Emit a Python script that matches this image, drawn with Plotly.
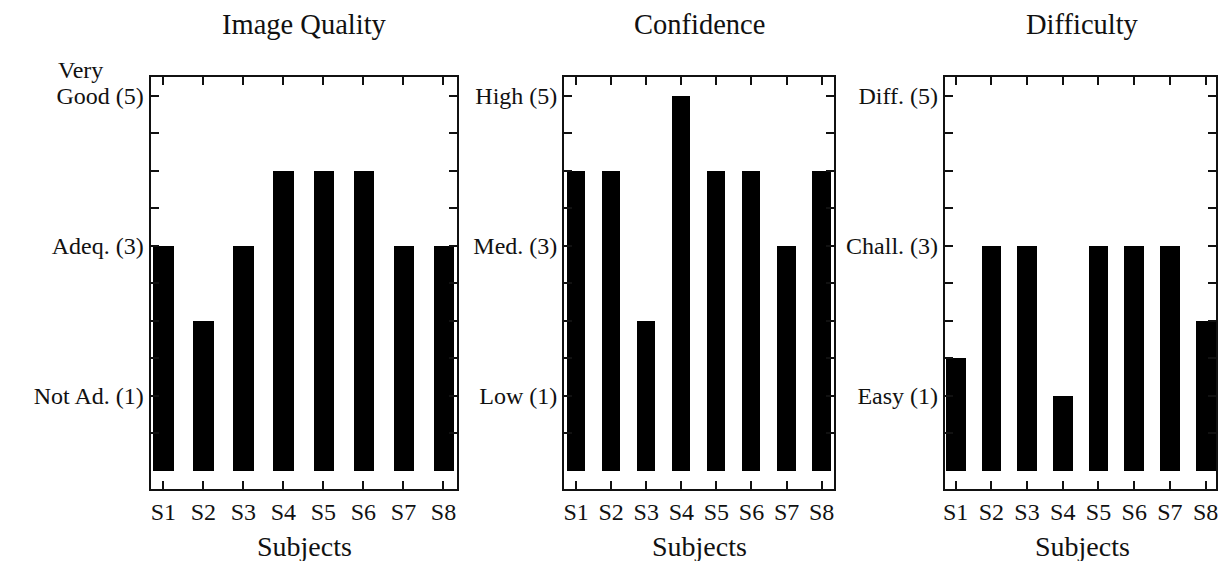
import plotly.graph_objects as go

subjects = ["S1", "S2", "S3", "S4", "S5", "S6", "S7", "S8"]
image_quality = [3, 2, 3, 4, 4, 4, 3, 3]
confidence = [4, 4, 2, 5, 4, 4, 3, 4]
difficulty = [1.5, 3, 3, 1, 3, 3, 3, 2]

panel_titles = ["Image Quality", "Confidence", "Difficulty"]
x_title = "Subjects"
ytick_vals = [0.5, 1, 1.5, 2, 2.5, 3, 3.5, 4, 4.5, 5]
iq_labels = {1: "Not Ad. (1)", 3: "Adeq. (3)", 5: "Good (5)"}
iq_top_extra = "Very"
conf_labels = {1: "Low (1)", 3: "Med. (3)", 5: "High (5)"}
diff_labels = {1: "Easy (1)", 3: "Chall. (3)", 5: "Diff. (5)"}

W, H = 1218, 561
FONT = "Liberation Serif"
INK = "#111111"

def px_x(p):
    return p / W

def px_y(p):
    return 1 - p / H

panels = [
    dict(vals=image_quality, labels=iq_labels, x0=149, x1=457, xr=[-0.32, 7.35], bw=0.52),
    dict(vals=confidence, labels=conf_labels, x0=564, x1=835, xr=[-0.34, 7.36], bw=0.52),
    dict(vals=difficulty, labels=diff_labels, x0=946, x1=1218, xr=[-0.30, 7.29], bw=0.55),
]

y_top, y_bot = 77, 489
y_range = [-0.245, 5.25]

fig = go.Figure()
annotations = []
for i, p in enumerate(panels, start=1):
    xa = "x" if i == 1 else f"x{i}"
    ya = "y" if i == 1 else f"y{i}"
    fig.add_trace(go.Bar(
        x=subjects, y=p["vals"], xaxis=xa, yaxis=ya,
        marker=dict(color="#000000", line=dict(width=0)),
        width=p["bw"], showlegend=False, hoverinfo="skip",
    ))
    ticktext = [p["labels"].get(v, "") for v in ytick_vals]
    axis_common = dict(showline=True, linecolor=INK, linewidth=2, mirror="ticks",
                       ticks="inside", ticklen=8, tickwidth=2, tickcolor=INK,
                       showgrid=False, zeroline=False,
                       tickfont=dict(family=FONT, size=24, color=INK))
    fig.update_layout(**{
        ("xaxis" if i == 1 else f"xaxis{i}"): dict(
            domain=[px_x(p["x0"]), min(1.0, px_x(p["x1"]))],
            anchor=ya, range=p["xr"], type="category", **axis_common),
        ("yaxis" if i == 1 else f"yaxis{i}"): dict(
            domain=[px_y(y_bot), px_y(y_top)],
            anchor=xa, range=y_range, tickvals=ytick_vals, ticktext=ticktext,
            **axis_common),
    })
    cx = (p["x0"] + p["x1"]) / 2
    if i == 3:
        cx = (p["x0"] + 1222) / 2
    annotations.append(dict(text=panel_titles[i - 1], x=px_x(cx), y=px_y(25),
                            xref="paper", yref="paper", xanchor="center", yanchor="middle",
                            showarrow=False, font=dict(family=FONT, size=28.5, color=INK)))
    annotations.append(dict(text=x_title, x=px_x(cx), y=px_y(546),
                            xref="paper", yref="paper", xanchor="center", yanchor="middle",
                            showarrow=False, font=dict(family=FONT, size=28, color=INK)))

annotations.append(dict(text=iq_top_extra, x=px_x(54), y=px_y(70),
                        xref="paper", yref="paper", xanchor="left", yanchor="middle",
                        showarrow=False, font=dict(family=FONT, size=24, color=INK)))

fig.update_layout(
    width=W, height=H,
    margin=dict(l=0, r=0, t=0, b=0),
    paper_bgcolor="white", plot_bgcolor="white",
    annotations=annotations,
    bargap=0,
    hovermode=False,
)
fig.write_html(
    "out.html",
    config={"displayModeBar": False},
    post_script="document.body.style.margin='0';document.body.style.padding='0';document.body.style.overflow='hidden';",
)
